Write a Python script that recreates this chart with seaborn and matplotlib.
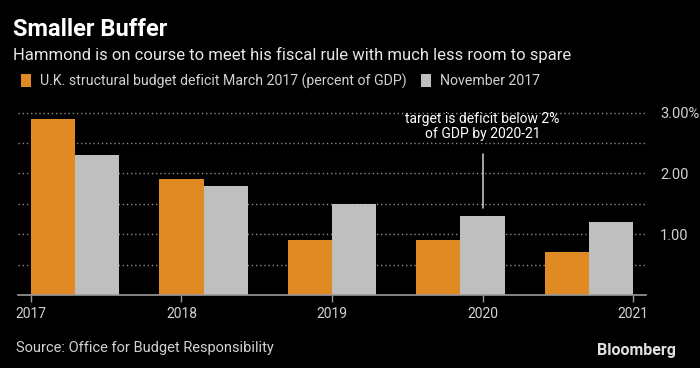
import numpy as np
import pandas as pd
import seaborn as sns
import matplotlib
matplotlib.use("Agg")
import matplotlib.pyplot as plt
from matplotlib.ticker import MultipleLocator, FixedLocator

periods = ['2016-17', '2017-18', '2018-19', '2019-20', '2020-21']
march_2017 = [2.9, 1.9, 0.9, 0.9, 0.7]
november_2017 = [2.3, 1.8, 1.5, 1.3, 1.2]
series_names = ['U.K. structural budget deficit March 2017 (percent of GDP)', 'November 2017']
year_ticks = [2017, 2018, 2019, 2020, 2021]
y_ticks = [1.0, 2.0, 3.0]
y_labels = ['1.00', '2.00', '3.00%']

orange = '#E08A24'
grey = '#BFBFBF'
txt = '#D2D2D2'

df = pd.DataFrame({
    'period': periods * 2,
    'value': march_2017 + november_2017,
    'series': [series_names[0]] * len(periods) + [series_names[1]] * len(periods),
})

sns.set_style('dark')
plt.rcParams['font.family'] = ['Liberation Sans Narrow', 'Roboto', 'DejaVu Sans']

fig = plt.figure(figsize=(7, 3.68), dpi=100, facecolor='black')
ax = fig.add_axes([18 / 700, 1 - 295 / 368, 628 / 700, 183 / 368])
ax.set_facecolor('black')

width = 0.69
sns.barplot(data=df, x='period', y='value', hue='series', palette=[orange, grey],
            width=width, gap=0, linewidth=0, saturation=1, ax=ax, legend=True)

# year ticks span from first bar edge to last bar edge
lo, hi = -width / 2, len(periods) - 1 + width / 2
pos = np.linspace(lo, hi, len(year_ticks))
ax.set_xlim(lo - 0.1, hi + 0.1)
ax.xaxis.set_major_locator(FixedLocator(pos))
ax.set_xticklabels([str(y) for y in year_ticks])
ax.set_xlabel('')
ax.set_ylabel('')

ax.set_ylim(0, 3.01)
ax.yaxis.tick_right()
ax.set_yticks(y_ticks)
ax.set_yticklabels(y_labels)
ax.yaxis.set_minor_locator(MultipleLocator(0.5))
ax.grid(False)
ax.grid(axis='y', which='both', color='#8A8A8A', linestyle=(0, (1, 2)), linewidth=1)
ax.set_axisbelow(True)

for s in ['top', 'left', 'right']:
    ax.spines[s].set_visible(False)
ax.spines['bottom'].set_visible(True)
ax.spines['bottom'].set_color('#9A9A9A')
ax.spines['bottom'].set_linewidth(1.2)

ax.tick_params(axis='x', colors='#9A9A9A', labelcolor=txt, length=5, width=1,
               direction='out', labelsize=10, pad=4, bottom=True)
ax.tick_params(axis='y', which='both', length=0, labelcolor=txt, labelsize=10.5, pad=10)
for lbl in ax.get_yticklabels():
    lbl.set_horizontalalignment('left')

# annotation for the fiscal target
ax.plot([pos[3], pos[3]], [1.43, 2.32], color=grey, linewidth=1.2, clip_on=False)
ax.text(pos[3], 2.77, 'target is deficit below 2%\nof GDP by 2020-21', ha='center',
        va='center', color='white', fontsize=10, linespacing=1.05)

handles, labels = ax.get_legend_handles_labels()
ax.legend(handles, labels, loc='center left', bbox_to_anchor=(8 / 700, 1 - 81 / 368),
          bbox_transform=fig.transFigure, ncol=2, frameon=False, fontsize=10.2,
          handlelength=0.75, handleheight=1.1, handletextpad=0.6, columnspacing=1.0,
          labelcolor=txt)

fig.text(13 / 700, 1 - 30 / 368, 'Smaller Buffer', color='white', fontsize=17,
         fontweight='bold', va='center', ha='left')
fig.text(13 / 700, 1 - 55 / 368, 'Hammond is on course to meet his fiscal rule with much less room to spare',
         color='#E6E6E6', fontsize=12, va='center', ha='left')
fig.text(16 / 700, 1 - 348 / 368, 'Source: Office for Budget Responsibility',
         color=txt, fontsize=10.5, va='center', ha='left')
fig.text(676 / 700, 1 - 350 / 368, 'Bloomberg', color='#E0E0E0', fontsize=11.5,
         fontweight='bold', va='center', ha='right', family=['Roboto', 'DejaVu Sans'])

fig.savefig('out.png', dpi=100, facecolor='black')
